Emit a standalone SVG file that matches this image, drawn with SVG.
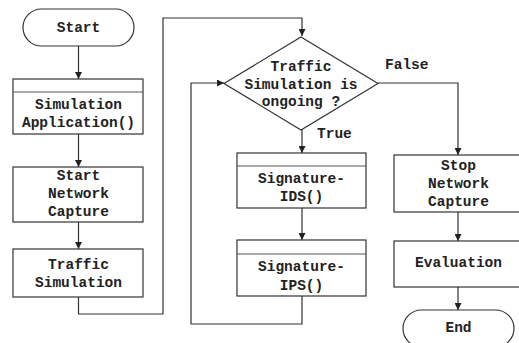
<svg xmlns="http://www.w3.org/2000/svg" width="519" height="343" viewBox="0 0 519 343">
  <defs>
    <marker id="arrow" viewBox="0 0 10 10" refX="10" refY="5" markerWidth="7" markerHeight="7" markerUnits="userSpaceOnUse" orient="auto">
      <path d="M0,0 L10,5 L0,10 z" fill="#222"/>
    </marker>
    <style>
      .shape { fill: #fff; stroke: #333; stroke-width: 1.2; }
      .band { stroke: #555; stroke-width: 1.2; fill: none; }
      .edge { fill: none; stroke: #333; stroke-width: 1.2; marker-end: url(#arrow); }
      text { font-family: "Liberation Mono", "Courier New", monospace; font-size: 14.5px; font-weight: bold; fill: #222; text-anchor: middle; dominant-baseline: central; }
      .lbl { text-anchor: start; }
    </style>
  </defs>
  <rect width="519" height="343" fill="#fff"/>

  <!-- connectors -->
  <g id="connectors">
    <path class="edge" d="M78.5,46 V79"/>
    <path class="edge" d="M78.5,134 V167"/>
    <path class="edge" d="M78.5,222 V249"/>
    <path class="edge" d="M78.5,297 V314 H163 V18 H302 V36"/>
    <path class="edge" d="M302,130 V153"/>
    <path class="edge" d="M302,208 V240"/>
    <path class="edge" d="M302,296 V324 H191 V83 H224"/>
    <path class="edge" d="M378,83 H458 V155"/>
    <path class="edge" d="M458,212 V241"/>
    <path class="edge" d="M458,287 V310"/>
    <text class="lbl" x="385" y="65">False</text>
    <text class="lbl" x="317" y="134">True</text>
  </g>

  <!-- nodes -->
  <g id="start">
    <rect class="shape" x="23" y="9" width="111" height="37" rx="18.5"/>
    <text x="78.5" y="28">Start</text>
  </g>

  <g id="simulation-application">
    <rect class="shape" x="13" y="79" width="130" height="55"/>
    <line class="band" x1="13" y1="92" x2="143" y2="92"/>
    <text x="78.5" y="105">Simulation</text>
    <text x="78.5" y="123">Application()</text>
  </g>

  <g id="start-capture">
    <rect class="shape" x="13" y="167" width="130" height="55"/>
    <text x="78.5" y="176">Start</text>
    <text x="78.5" y="194">Network</text>
    <text x="78.5" y="212">Capture</text>
  </g>

  <g id="traffic-simulation">
    <rect class="shape" x="13" y="249" width="130" height="48"/>
    <text x="78.5" y="265">Traffic</text>
    <text x="78.5" y="283">Simulation</text>
  </g>

  <g id="decision">
    <polygon class="shape" points="301,37 378,83.5 301,130 224,83.5"/>
    <text x="301" y="67">Traffic</text>
    <text x="301" y="85">Simulation is</text>
    <text x="301" y="102">ongoing ?</text>
  </g>

  <g id="signature-ids">
    <rect class="shape" x="237" y="153" width="129" height="55"/>
    <line class="band" x1="237" y1="166" x2="366" y2="166"/>
    <text x="301.5" y="179">Signature-</text>
    <text x="301.5" y="197">IDS()</text>
  </g>

  <g id="signature-ips">
    <rect class="shape" x="237" y="240" width="129" height="56"/>
    <line class="band" x1="237" y1="254" x2="366" y2="254"/>
    <text x="301.5" y="267">Signature-</text>
    <text x="301.5" y="286">IPS()</text>
  </g>

  <g id="stop-capture">
    <rect class="shape" x="394" y="155" width="130" height="57"/>
    <text x="458.5" y="166">Stop</text>
    <text x="458.5" y="184">Network</text>
    <text x="458.5" y="202">Capture</text>
  </g>

  <g id="evaluation">
    <rect class="shape" x="394" y="241" width="130" height="46"/>
    <text x="458.5" y="263">Evaluation</text>
  </g>

  <g id="end">
    <rect class="shape" x="403" y="310" width="111" height="37" rx="18.5"/>
    <text x="458.5" y="328">End</text>
  </g>
</svg>
